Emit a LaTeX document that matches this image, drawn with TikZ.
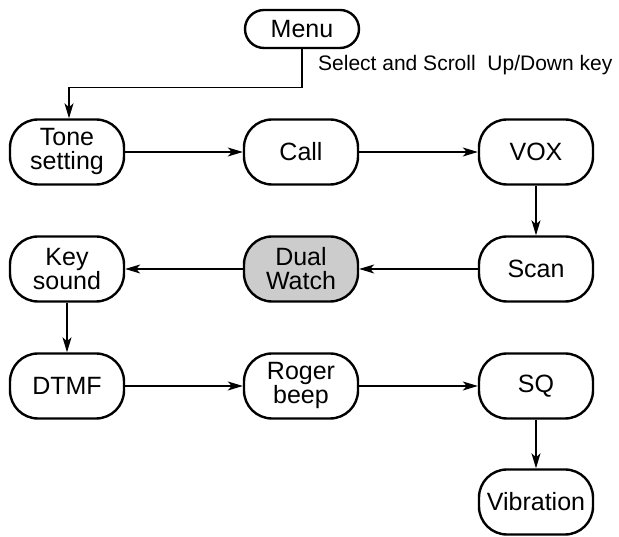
\documentclass[tikz,border=0pt]{standalone}
\usepackage{fontspec}
\setmainfont{Liberation Sans}
\usetikzlibrary{arrows.meta}

\begin{document}
\begin{tikzpicture}[x=1pt,y=1pt,
  box/.style={draw,line width=2.4pt,rounded corners=28pt,minimum width=114pt,
    minimum height=65pt,inner sep=0pt,align=center,font=\fontsize{25}{24}\selectfont},
  flow/.style={line width=1.1pt,-{Stealth[length=15pt,width=9pt,inset=4pt]}}]
  \useasboundingbox (0,0) rectangle (619,537);

  % menu and key note
  \node[box,minimum height=38pt,rounded corners=19pt] (menu) at (302,508) {Menu};
  \node[anchor=base west,inner sep=0pt,font=\fontsize{21}{22}\selectfont] (keynote) at (318,466) {Select and Scroll~~Up/Down key};

  % first row
  \node[box] (tone) at (67,385) {Tone\\setting};
  \node[box] (call) at (301,385) {Call};
  \node[box] (vox) at (536,385) {VOX};

  % second row
  \node[box] (keysnd) at (67,268) {Key\\sound};
  \node[box,fill=black!20] (dual) at (301,268) {Dual\\Watch};
  \node[box] (scan) at (536,268) {Scan};

  % third row
  \node[box] (dtmf) at (67,151) {DTMF};
  \node[box] (roger) at (301,151) {Roger\\beep};
  \node[box] (sq) at (536,151) {SQ};

  \node[box] (vib) at (536,35) {Vibration};

  \draw[flow] (menu.south) -- ++(0,-38pt) -| ([xshift=2pt]tone.north);
  \draw[flow] (tone) -- (call);
  \draw[flow] (call) -- (vox);
  \draw[flow] (vox) -- (scan);
  \draw[flow] (scan) -- (dual);
  \draw[flow] (dual) -- (keysnd);
  \draw[flow] (keysnd) -- (dtmf);
  \draw[flow] (dtmf) -- (roger);
  \draw[flow] (roger) -- (sq);
  \draw[flow] (sq) -- (vib);
\end{tikzpicture}
\end{document}
